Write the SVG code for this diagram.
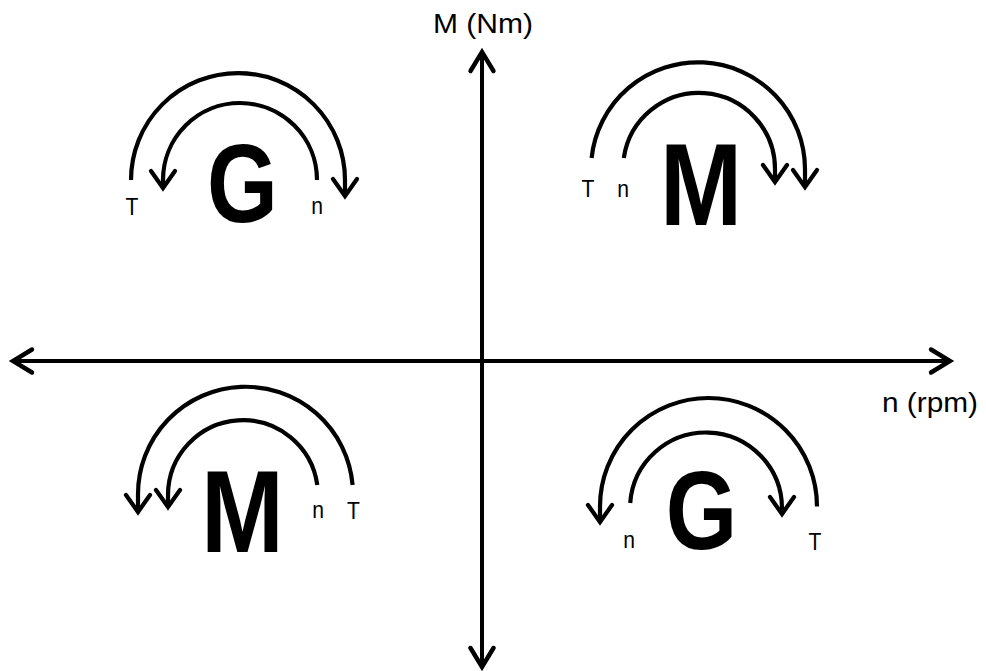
<svg xmlns="http://www.w3.org/2000/svg" width="986" height="671" viewBox="0 0 986 671">
<style>
.ln{fill:none;stroke:#000;stroke-width:4.2}
.ax{fill:none;stroke:#000;stroke-width:4}
.sm{font-family:"Liberation Sans",Arial,sans-serif;font-size:24px;fill:#000;text-anchor:middle}
.big{font-family:"Liberation Sans",Arial,sans-serif;font-weight:bold;fill:#000;text-anchor:middle}
.lab{font-family:"Liberation Sans",Arial,sans-serif;font-size:28px;fill:#000}
</style>
<defs>
<marker id="ah" markerUnits="userSpaceOnUse" viewBox="-22 -14 26 28" refX="0" refY="0" markerWidth="26" markerHeight="28" orient="auto" overflow="visible">
<path d="M-17,-12 L0,0 L-17,12" fill="none" stroke="#000" stroke-width="4.2" stroke-linecap="round" stroke-linejoin="miter"/>
</marker>
<marker id="axh" markerUnits="userSpaceOnUse" viewBox="-22 -14 26 28" refX="0" refY="0" markerWidth="26" markerHeight="28" orient="auto-start-reverse" overflow="visible">
<path d="M-19,-11.5 L0,0 L-19,11.5" fill="none" stroke="#000" stroke-width="4.4" stroke-linecap="round"/>
</marker>
</defs>
<rect width="986" height="671" fill="#fff"/>
<g id="connectors">
<path id="x-axis" class="ax" d="M13,361 L950,361" marker-start="url(#axh)" marker-end="url(#axh)"/>
<path id="y-axis" class="ax" d="M482,52 L482,667" marker-start="url(#axh)" marker-end="url(#axh)"/>
<path id="q1-outer" class="ln" d="M131,180 A107,107 0 0 1 345,180 L345,196" marker-end="url(#ah)"/>
<path id="q1-inner" class="ln" d="M317,180 A77,77 0 0 0 163,180 L163,188" marker-end="url(#ah)"/>
<path id="q2-outer" class="ln" d="M591.6,158 A107,107 0 0 1 805,169 L805,187" marker-end="url(#ah)"/>
<path id="q2-inner" class="ln" d="M623.8,158 A76,76 0 0 1 775,169 L775,182" marker-end="url(#ah)"/>
<path id="q3-outer" class="ln" d="M352.6,485 A107.5,107.5 0 0 0 138,494.5 L138,512" marker-end="url(#ah)"/>
<path id="q3-inner" class="ln" d="M317.3,485 A75,75 0 0 0 168,495 L168,507" marker-end="url(#ah)"/>
<path id="q4-outer" class="ln" d="M817,506.5 A108.5,108.5 0 0 0 600,506.5 L600,522" marker-end="url(#ah)"/>
<path id="q4-inner" class="ln" d="M630.2,503 A76,76 0 0 1 782,508 L782,514" marker-end="url(#ah)"/>
</g>
<g id="axis-labels">
<text id="y-label" class="lab" x="433" y="33" textLength="100" lengthAdjust="spacingAndGlyphs">M (Nm)</text>
<text id="x-label" class="lab" x="882" y="412" textLength="96" lengthAdjust="spacingAndGlyphs">n (rpm)</text>
</g>
<g id="q1-generator">
<text class="big" font-size="111" transform="translate(242.5,222) scale(0.82,1)">G</text>
<text class="sm" transform="translate(132,215) scale(0.88,1)">T</text>
<text class="sm" transform="translate(317,214) scale(0.88,1)">n</text>
</g>
<g id="q2-motor">
<text class="big" font-size="116" transform="translate(701,225) scale(0.85,1)">M</text>
<text class="sm" transform="translate(588,197) scale(0.88,1)">T</text>
<text class="sm" transform="translate(623,197) scale(0.88,1)">n</text>
</g>
<g id="q3-motor">
<text class="big" font-size="117" transform="translate(242.5,552) scale(0.85,1)">M</text>
<text class="sm" transform="translate(318,518) scale(0.88,1)">n</text>
<text class="sm" transform="translate(353.5,519) scale(0.88,1)">T</text>
</g>
<g id="q4-generator">
<text class="big" font-size="112" transform="translate(701.5,549) scale(0.82,1)">G</text>
<text class="sm" transform="translate(629,548) scale(0.88,1)">n</text>
<text class="sm" transform="translate(815,550) scale(0.88,1)">T</text>
</g>
</svg>
